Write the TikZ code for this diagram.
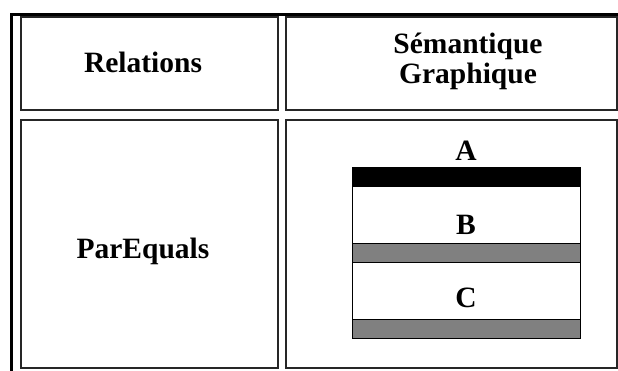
\documentclass[tikz,border=0pt]{standalone}
\usepackage{fontspec}
\setmainfont{Liberation Serif}
\begin{document}
\begin{tikzpicture}[x=1pt,y=-1pt,
  cell/.style={draw=black!85, line width=1.6pt, inner sep=0pt, anchor=north west},
  lbl/.style={font=\fontsize{29.5}{30}\selectfont\bfseries, inner sep=0pt, align=center},
  bar/.style={draw=black, line width=1.2pt, inner sep=0pt, anchor=north west, minimum width=228pt}
]
\useasboundingbox (0,0) rectangle (618,370);
% outer table frame
\coordinate (fb) at (11.5,371);
\coordinate (ftl) at (11.5,14.5);
\coordinate (fr) at (619,14.5);
\draw[line width=3pt] (fb) -- (ftl) -- (fr);
% cells
\node[cell, minimum width=257pt, minimum height=93pt] (c1) at (20,16) {};
\node[cell, minimum width=331pt, minimum height=93pt] (c2) at (285,16) {};
\node[cell, minimum width=257pt, minimum height=248pt] (c3) at (20,119) {};
\node[cell, minimum width=331pt, minimum height=248pt] (c4) at (285,119) {};
% texts
\node[lbl] (trel) at (143,62) {Relations};
\node[lbl] (tsem) at (468,61) {Sémantique\\Graphique};
\node[lbl] (tpar) at (143,251) {ParEquals};
% bars
\node[lbl] (ta) at (466,151) {A};
\node[bar, fill=black, minimum height=19pt] (ba) at (352,167) {};
\node[bar, fill=white, minimum height=57pt] (bb) at (352,186) {};
\node[bar, fill=black!50, minimum height=19pt] (gb) at (352,243) {};
\node[bar, fill=white, minimum height=57pt] (bc) at (352,262) {};
\node[bar, fill=black!50, minimum height=19pt] (gc) at (352,319) {};
\node[lbl] (tb) at (466,225) {B};
\node[lbl] (tc) at (466,298) {C};
\end{tikzpicture}
\end{document}
